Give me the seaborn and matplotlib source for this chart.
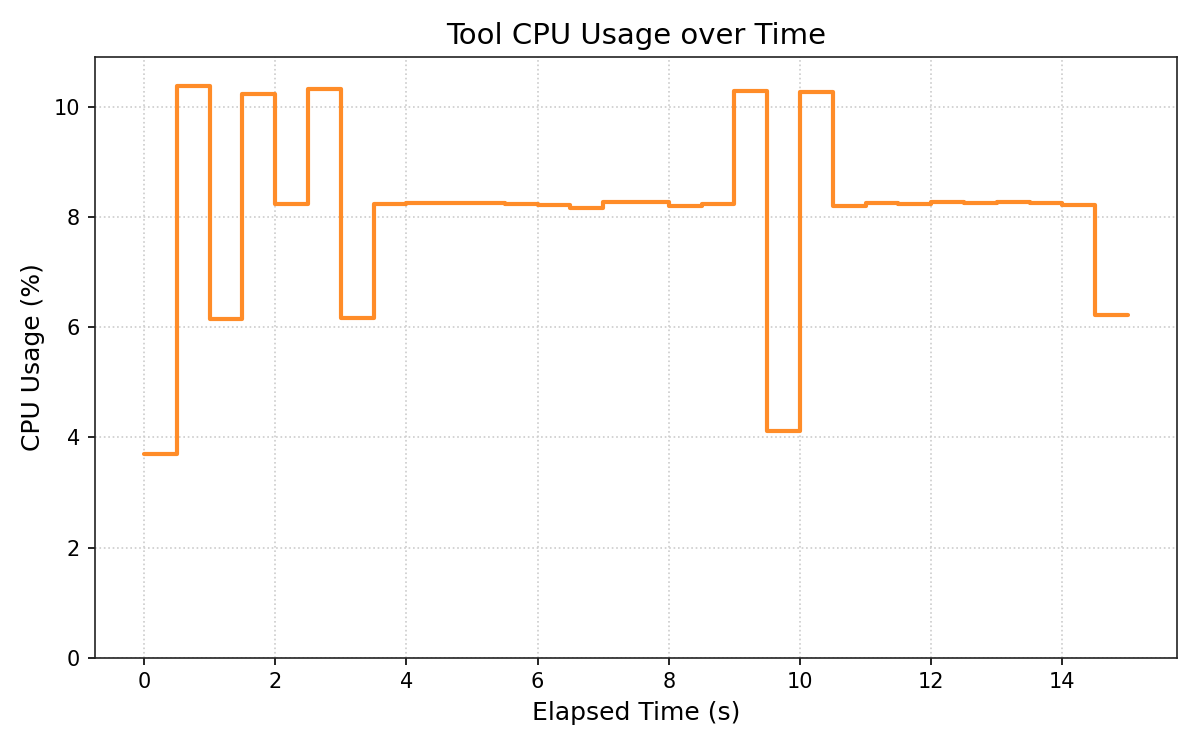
import matplotlib
matplotlib.use("Agg")
import matplotlib.pyplot as plt
import seaborn as sns
import pandas as pd

# elapsed time (s) and tool CPU usage (%) sampled every 0.5 s
elapsed_s = [0.0, 0.5, 1.0, 1.5, 2.0, 2.5, 3.0, 3.5, 4.0, 4.5,
             5.0, 5.5, 6.0, 6.5, 7.0, 7.5, 8.0, 8.5, 9.0, 9.5,
             10.0, 10.5, 11.0, 11.5, 12.0, 12.5, 13.0, 13.5, 14.0, 14.5,
             15.0]
cpu_pct = [3.70, 10.38, 6.15, 10.22, 8.23, 10.32, 6.17, 8.23, 8.25, 8.25,
           8.25, 8.23, 8.22, 8.16, 8.27, 8.27, 8.19, 8.23, 10.28, 4.12,
           10.26, 8.19, 8.25, 8.23, 8.27, 8.25, 8.27, 8.25, 8.21, 6.22,
           6.22]

df = pd.DataFrame({"Elapsed Time (s)": elapsed_s, "CPU Usage (%)": cpu_pct})

sns.set_theme(style="ticks", rc={
    "text.color": "black",
    "axes.labelcolor": "black",
    "xtick.color": "black",
    "ytick.color": "black",
    "axes.edgecolor": "#222222",
    "xtick.major.size": 3.5,
    "ytick.major.size": 3.5,
    "xtick.major.width": 0.8,
    "ytick.major.width": 0.8,
    "axes.linewidth": 0.8,
})
plt.rcParams["font.family"] = ["DejaVu Sans"]

fig, ax = plt.subplots(figsize=(8, 5), dpi=150)
sns.lineplot(
    data=df,
    x="Elapsed Time (s)",
    y="CPU Usage (%)",
    drawstyle="steps-post",
    color="#ff8c28",
    linewidth=2.0,
    ax=ax,
)

ax.set_ylim(0, max(cpu_pct) * 1.05)
ax.set_title("Tool CPU Usage over Time", fontsize=14)
ax.set_xlabel("Elapsed Time (s)", fontsize=12)
ax.set_ylabel("CPU Usage (%)", fontsize=12)
ax.tick_params(labelsize=10)
ax.grid(True, linestyle=":", color="#cccccc", linewidth=0.8)

fig.subplots_adjust(left=0.079, right=0.981, top=0.924, bottom=0.123)
plt.savefig("out.png", dpi=150)
plt.close()
